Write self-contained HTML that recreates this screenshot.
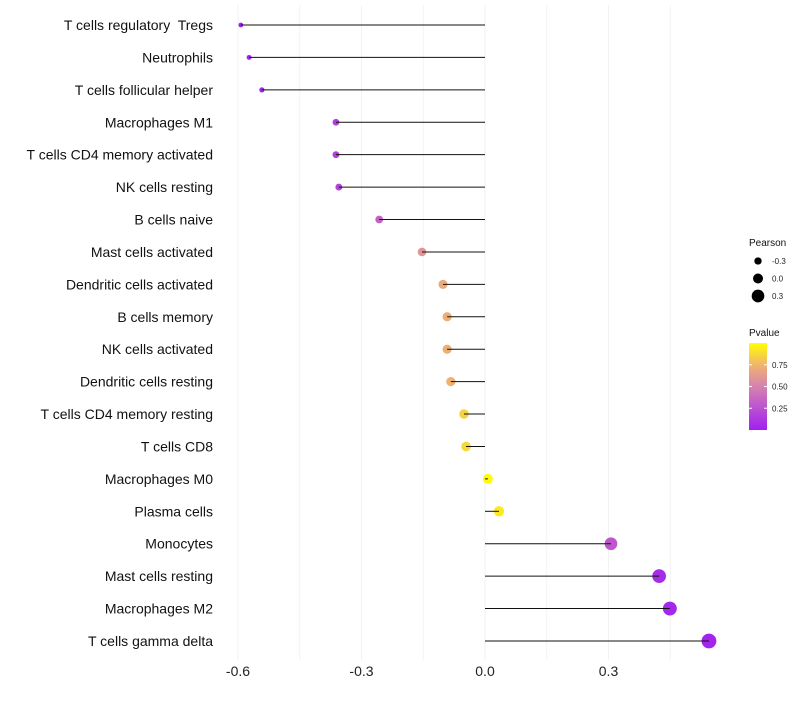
<!DOCTYPE html>
<html><head><meta charset="utf-8"><style>
body{margin:0;background:#fff;font-family:"Liberation Sans",sans-serif}
text{white-space:pre}
</style></head><body>
<svg id="c" width="800" height="700" xmlns="http://www.w3.org/2000/svg"></svg>
<script>
const cells=["T cells regulatory  Tregs","Neutrophils","T cells follicular helper","Macrophages M1","T cells CD4 memory activated","NK cells resting","B cells naive","Mast cells activated","Dendritic cells activated","B cells memory","NK cells activated","Dendritic cells resting","T cells CD4 memory resting","T cells CD8","Macrophages M0","Plasma cells","Monocytes","Mast cells resting","Macrophages M2","T cells gamma delta"];
const pearson=[-0.593,-0.573,-0.542,-0.362,-0.362,-0.355,-0.257,-0.153,-0.102,-0.092,-0.092,-0.083,-0.051,-0.046,0.007,0.034,0.306,0.423,0.449,0.544];
const pvalue=[0.01,0.02,0.03,0.16,0.16,0.18,0.33,0.6,0.7,0.72,0.72,0.74,0.85,0.87,0.99,0.93,0.28,0.06,0.04,0.02];
const xTicks=[-0.6,-0.3,0.0,0.3];
const xTickLabels=["-0.6","-0.3","0.0","0.3"];
const sizeLegend=[-0.3,0.0,0.3];
const pTicks=[0.25,0.5,0.75];
const pTickLabels=["0.25","0.50","0.75"];

const svg=document.getElementById('c');
const NS="http://www.w3.org/2000/svg";
const X=v=>485+v*411.7;
const Y=i=>25+i*32.42;
const R=v=>5.0+4.4*v;
function col(p){
  const stops=[[0,[160,32,240]],[0.5,[214,130,176]],[0.75,[240,180,110]],[1,[255,255,0]]];
  for(let k=1;k<stops.length;k++){if(p<=stops[k][0]){const a=stops[k-1],b=stops[k];const t=(p-a[0])/(b[0]-a[0]);
    return 'rgb('+a[1].map((c,j)=>Math.round(c+(b[1][j]-c)*t)).join(',')+')';}}
  return 'rgb(255,255,0)';
}
function mk(t,a,parent){const e=document.createElementNS(NS,t);for(const k in a)e.setAttribute(k,a[k]);(parent||svg).appendChild(e);return e;}
for(let k=0;k<=7;k++){const v=-0.6+k*0.15;const g=mk('line',{x1:X(v),x2:X(v),y1:5,y2:660,stroke:'#f2f2f2','stroke-width':1});

}
xTicks.forEach((v,i)=>{const t=mk('text',{x:X(v),y:676,'text-anchor':'middle','font-size':14,fill:'#222'});t.textContent=xTickLabels[i];

});
cells.forEach((c,i)=>{
  const t=mk('text',{x:213,y:Y(i)+5,'text-anchor':'end','font-size':14,fill:'#111'});t.textContent=c;
  
  
  const d=mk('circle',{cx:X(pearson[i]),cy:Y(i),r:R(pearson[i]),fill:col(pvalue[i])});
  
  
  const l=mk('line',{x1:X(0),x2:X(pearson[i]),y1:Y(i),y2:Y(i),stroke:'#111','stroke-width':1});
  
  
});
let t=mk('text',{x:749,y:246,'font-size':10,fill:'#111'});t.textContent='Pearson';


sizeLegend.forEach((v,i)=>{const y=261+i*17.5;
 const c=mk('circle',{cx:758,cy:y,r:R(v),fill:'#000'});
 
 
 const tt=mk('text',{x:772,y:y+3,'font-size':8,fill:'#222'});tt.textContent=v.toFixed(1);
 
 });
t=mk('text',{x:749,y:336,'font-size':10,fill:'#111'});t.textContent='Pvalue';


const defs=mk('defs',{});const lg=mk('linearGradient',{id:'g',x1:0,y1:1,x2:0,y2:0},defs);
for(let k=0;k<=10;k++)mk('stop',{offset:k/10,'stop-color':col(k/10)},lg);
const bar=mk('rect',{x:749,y:343,width:18,height:87,fill:'url(#g)'});


const PY=p=>430-p*87;
pTicks.forEach((p,i)=>{mk('line',{x1:749,x2:752,y1:PY(p),y2:PY(p),stroke:'#fff'});mk('line',{x1:764,x2:767,y1:PY(p),y2:PY(p),stroke:'#fff'});
 const tt=mk('text',{x:772,y:PY(p)+3,'font-size':8,fill:'#222'});tt.textContent=pTickLabels[i];
 
 });
</script>
</body></html>
